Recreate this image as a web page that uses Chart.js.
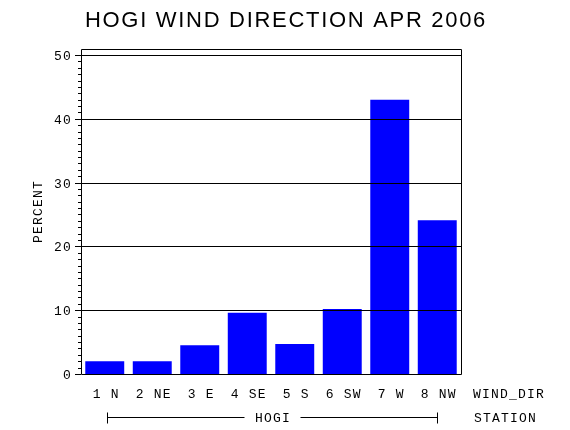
<!DOCTYPE html>
<html>
<head>
<meta charset="utf-8">
<script src="https://cdn.jsdelivr.net/npm/chart.js@4/dist/chart.umd.min.js"></script>
<style>
  html, body { margin: 0; padding: 0; background: #fff; }
  #wrap { width: 570px; height: 430px; }
</style>
</head>
<body>
<div id="wrap"><canvas id="chart" width="570" height="430"></canvas></div>
<script>
// chart data
const titleText = 'HOGI WIND DIRECTION APR 2006';
const dirNums = ['1', '2', '3', '4', '5', '6', '7', '8'];
const dirNames = ['N', 'NE', 'E', 'SE', 'S', 'SW', 'W', 'NW'];
const percents = [2.0, 2.0, 4.5, 9.6, 4.7, 10.2, 43.0, 24.1];
const yTicks = [0, 10, 20, 30, 40, 50];
const yMinorStep = 1;
const yMax = 50.94;
const stationName = 'HOGI';
const xAxisName = 'WIND_DIR';
const groupAxisName = 'STATION';
const yAxisName = 'PERCENT';

const categories = dirNums.map((n, i) => n + ' ' + dirNames[i]);

const MONO = '13px "Liberation Mono", "DejaVu Sans Mono", monospace';
const ADV = 9; // char advance of the plotter-style text

// draw text one glyph at a time with a fixed advance
function spacedText(ctx, str, x, y, align) {
  const n = str.length;
  let start;
  if (align === 'right') start = x - (n - 1) * ADV;
  else if (align === 'left') start = x;
  else start = x - (n - 1) * ADV / 2;
  for (let i = 0; i < n; i++) {
    if (str[i] !== ' ') ctx.fillText(str[i], start + i * ADV, y);
  }
}

const framePlugin = {
  id: 'frame',
  afterDatasetsDraw(chart) {
    const { ctx, chartArea: a, scales } = chart;
    const y = scales.y, x = scales.x;
    ctx.save();
    ctx.strokeStyle = '#000';
    ctx.fillStyle = '#000';
    ctx.lineWidth = 1;

    // grid lines (on top of bars)
    ctx.beginPath();
    yTicks.forEach(v => {
      if (v === 0) return;
      const py = Math.round(y.getPixelForValue(v)) + 0.5;
      ctx.moveTo(a.left, py);
      ctx.lineTo(a.right, py);
    });
    ctx.stroke();

    // frame
    ctx.beginPath();
    ctx.rect(Math.round(a.left) + 0.5, Math.round(a.top) + 0.5,
      Math.round(a.right - a.left), Math.round(a.bottom - a.top));
    ctx.stroke();

    // y ticks
    ctx.beginPath();
    for (let v = 0; v <= yTicks[yTicks.length - 1]; v += yMinorStep) {
      const py = Math.round(y.getPixelForValue(v)) + 0.5;
      const len = yTicks.includes(v) ? 6 : 3;
      ctx.moveTo(a.left - len, py);
      ctx.lineTo(a.left, py);
    }
    ctx.stroke();

    ctx.font = MONO;
    ctx.textBaseline = 'middle';
    ctx.textAlign = 'center';

    // y tick labels
    yTicks.forEach(v => {
      spacedText(ctx, String(v), 67, y.getPixelForValue(v) + 1.5, 'right');
    });

    // y axis title
    ctx.save();
    ctx.translate(39, 212);
    ctx.rotate(-Math.PI / 2);
    spacedText(ctx, yAxisName, 0, 0, 'center');
    ctx.restore();

    // category labels
    categories.forEach((c, i) => {
      spacedText(ctx, c, x.getPixelForValue(i) + 1, 395, 'center');
    });
    spacedText(ctx, xAxisName, 477, 395, 'left');

    // station bracket
    const x0 = Math.round(x.getPixelForValue(0)) + 2.5;
    const x1 = Math.round(x.getPixelForValue(categories.length - 1)) + 0.5;
    const by = 417.5;
    const cx = (x0 + x1) / 2;
    ctx.beginPath();
    ctx.moveTo(x0, by - 5); ctx.lineTo(x0, by + 6);
    ctx.moveTo(x1, by - 5); ctx.lineTo(x1, by + 6);
    ctx.moveTo(x0, by); ctx.lineTo(cx - 28, by);
    ctx.moveTo(cx + 28, by); ctx.lineTo(x1, by);
    ctx.stroke();
    spacedText(ctx, stationName, cx, 419, 'center');
    spacedText(ctx, groupAxisName, 478, 419, 'left');

    // title
    ctx.font = '22px "Liberation Sans", Arial, sans-serif';
    ctx.letterSpacing = '1.7px';
    ctx.textAlign = 'center';
    ctx.fillText(titleText, 286, 21);
    ctx.restore();
  }
};

new Chart(document.getElementById('chart'), {
  type: 'bar',
  data: {
    labels: categories,
    datasets: [{
      data: percents,
      backgroundColor: '#0000ff',
      borderWidth: 0,
      categoryPercentage: 1.0,
      barPercentage: 0.82
    }]
  },
  options: {
    responsive: false,
    animation: false,
    devicePixelRatio: 1,
    layout: { padding: { left: 81, right: 109, top: 49, bottom: 56 } },
    plugins: {
      legend: { display: false },
      tooltip: { enabled: false },
      title: { display: false }
    },
    scales: {
      x: { display: false },
      y: { display: false, min: 0, max: yMax }
    }
  },
  plugins: [framePlugin]
});
</script>
</body>
</html>
